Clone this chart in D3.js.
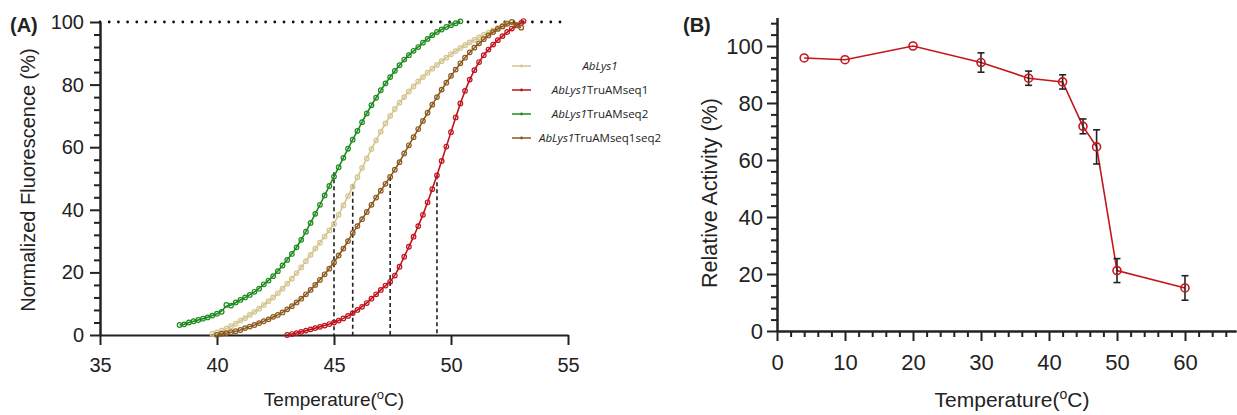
<!DOCTYPE html>
<html lang="en">
<head>
<meta charset="UTF-8">
<title>Thermal stability</title>
<script src="https://d3js.org/d3.v7.min.js"></script>
<style>
  body { margin: 0; background: #fff; }
  svg text { font-family: Arial, "Liberation Sans", sans-serif; fill: #222; }
  .axis path, .axis line { stroke: #222; stroke-width: 2; }
  .axis text { font-size: 20px; }
  .axisB text { font-size: 22px; }
  .legend text { font-family: "Open Sans", sans-serif; font-size: 11.5px; }
</style>
</head>
<body>
<script>
// ---- panel A : melt curves (temperature, normalized fluorescence) ----
var tanPts = [[39.8,0.4],[40.0,0.8],[40.2,1.4],[40.4,2.0],[40.6,2.8],[40.8,3.6],[41.0,4.6],[41.2,5.4],[41.4,6.4],[41.6,7.4],[41.8,8.4],[42.0,9.6],[42.2,10.8],[42.4,12.0],[42.6,13.4],[42.8,14.8],[43.0,16.4],[43.2,18.0],[43.4,19.8],[43.6,21.6],[43.8,23.6],[44.0,25.6],[44.2,27.6],[44.4,29.5],[44.6,31.5],[44.8,33.4],[45.0,35.5],[45.2,38.4],[45.4,41.4],[45.6,44.4],[45.8,47.4],[46.0,50.4],[46.2,53.4],[46.4,56.4],[46.6,59.4],[46.8,62.2],[47.0,65.0],[47.2,67.6],[47.4,70.0],[47.6,72.2],[47.8,74.2],[48.0,76.0],[48.2,77.8],[48.4,79.4],[48.6,81.0],[48.8,82.4],[49.0,83.8],[49.2,85.1],[49.4,86.3],[49.6,87.5],[49.8,88.6],[50.0,89.7],[50.2,90.7],[50.4,91.7],[50.6,92.6],[50.8,93.5],[51.0,94.3],[51.2,95.1],[51.4,95.9],[51.6,96.6],[51.8,97.3],[52.0,98.0],[52.2,98.8],[52.4,99.6]];
var redPts = [[43.0,0.0],[43.2,0.3],[43.4,0.6],[43.6,1.0],[43.8,1.4],[44.0,1.8],[44.2,2.2],[44.4,2.6],[44.6,3.0],[44.8,3.5],[45.0,4.0],[45.2,4.6],[45.4,5.3],[45.6,6.1],[45.8,7.0],[46.0,8.0],[46.2,9.0],[46.4,10.2],[46.6,11.6],[46.8,13.0],[47.0,14.4],[47.2,15.8],[47.4,17.0],[47.6,19.0],[47.8,21.8],[48.0,25.0],[48.2,28.2],[48.4,31.4],[48.6,34.8],[48.8,38.4],[49.0,42.4],[49.2,46.6],[49.4,51.0],[49.6,55.6],[49.8,60.2],[50.0,64.8],[50.2,69.5],[50.4,74.0],[50.6,78.0],[50.8,81.6],[51.0,84.6],[51.2,87.2],[51.4,89.4],[51.6,91.2],[51.8,92.8],[52.0,94.2],[52.2,95.5],[52.4,96.8],[52.6,97.9],[52.8,98.9],[53.0,99.7],[53.1,100.3]];
var greenPts = [[38.4,3.2],[38.6,3.4],[38.8,4.0],[39.0,4.4],[39.2,4.8],[39.4,5.2],[39.6,5.6],[39.8,6.2],[40.0,6.8],[40.2,7.4],[40.4,9.6],[40.6,9.4],[40.8,10.4],[41.0,11.2],[41.2,12.0],[41.4,12.8],[41.6,13.8],[41.8,14.8],[42.0,16.2],[42.2,17.4],[42.4,18.8],[42.6,20.4],[42.8,22.2],[43.0,24.0],[43.2,25.9],[43.4,28.0],[43.6,30.4],[43.8,33.0],[44.0,35.8],[44.2,38.7],[44.4,41.6],[44.6,44.6],[44.8,47.6],[45.0,50.6],[45.2,53.6],[45.4,56.6],[45.6,59.5],[45.8,62.4],[46.0,65.2],[46.2,68.0],[46.4,70.8],[46.6,73.4],[46.8,75.8],[47.0,78.2],[47.2,80.4],[47.4,82.4],[47.6,84.4],[47.8,86.2],[48.0,88.0],[48.2,89.4],[48.4,90.8],[48.6,92.0],[48.8,93.4],[49.0,94.6],[49.2,95.8],[49.4,96.8],[49.6,97.6],[49.8,98.4],[50.0,99.0],[50.2,99.6],[50.4,100.2]];
var brownPts = [[40.0,0.0],[40.2,0.4],[40.4,0.6],[40.6,0.9],[40.8,1.2],[41.0,1.6],[41.2,2.2],[41.4,2.7],[41.6,3.2],[41.8,3.8],[42.0,4.4],[42.2,5.0],[42.4,5.8],[42.6,6.4],[42.8,7.2],[43.0,8.2],[43.2,9.2],[43.4,10.4],[43.6,11.6],[43.8,13.0],[44.0,14.4],[44.2,16.0],[44.4,17.6],[44.6,19.4],[44.8,21.2],[45.0,23.2],[45.2,25.4],[45.4,27.6],[45.6,30.0],[45.8,32.6],[46.0,34.8],[46.2,37.0],[46.4,39.3],[46.6,41.6],[46.8,43.9],[47.0,46.1],[47.2,48.3],[47.4,50.5],[47.6,52.8],[47.8,55.2],[48.0,58.0],[48.2,60.6],[48.4,63.2],[48.6,65.8],[48.8,68.4],[49.0,71.0],[49.2,73.6],[49.4,76.0],[49.6,78.4],[49.8,80.6],[50.0,82.8],[50.2,84.8],[50.4,86.8],[50.6,88.6],[50.8,90.3],[51.0,91.8],[51.2,93.2],[51.4,94.5],[51.6,95.7],[51.8,96.8],[52.0,97.8],[52.2,98.6],[52.4,99.4],[52.6,100.0],[52.8,99.0],[53.0,98.2]];

var seriesNames = ["AbLys1", "AbLys1TruAMseq1", "AbLys1TruAMseq2", "AbLys1TruAMseq1seq2"];
var seriesColors = ["#d3c58e", "#c0141e", "#1e8c1e", "#8c5a1e"];
var seriesPts = [tanPts, redPts, greenPts, brownPts];

// Tm markers (dashed verticals)
var tmTemps = [45.0, 45.8, 47.4, 49.4];
var tmTops = [52, 48, 50.5, 51];

// ---- panel B : relative activity ----
var actTemp = [4, 10, 20, 30, 37, 42, 45, 47, 50, 60];
var actVal = [95.8, 95.2, 100, 94.2, 88.7, 87.4, 71.8, 64.6, 21.2, 15.1];
var actErr = [0, 0, 0, 3.4, 2.5, 2.5, 2.6, 6.0, 4.2, 4.3];

var width = 1237, height = 415;

var svg = d3.select("body").append("svg")
    .attr("width", width)
    .attr("height", height);

// ================= panel A =================
var xA = d3.scaleLinear().domain([35, 55]).range([100, 568]);
var yA = d3.scaleLinear().domain([0, 100]).range([335, 22]);

// minor y ticks
svg.append("g").attr("class", "axis")
    .attr("transform", "translate(100,0)")
    .call(d3.axisLeft(yA).tickValues(d3.range(0, 101, 4).filter(function(v) { return v % 20 != 0; }))
        .tickSize(6).tickSizeOuter(0).tickFormat(""));
svg.append("g").attr("class", "axis")
    .attr("transform", "translate(100,0)")
    .call(d3.axisLeft(yA).tickValues(d3.range(0, 101, 20)).tickSize(10).tickSizeOuter(0).tickPadding(6));

svg.append("g").attr("class", "axis")
    .attr("transform", "translate(0,335)")
    .call(d3.axisBottom(xA).tickValues([35, 40, 45, 50, 55]).tickSize(10).tickSizeOuter(0).tickPadding(13));

// dotted 100% line
svg.append("line")
    .attr("x1", xA(35)).attr("x2", xA(54.7))
    .attr("y1", yA(100)).attr("y2", yA(100))
    .style("stroke", "#111").style("stroke-width", 2.8)
    .style("stroke-linecap", "round").style("stroke-dasharray", "0,9.2");

// dashed Tm lines
svg.selectAll(".tm")
    .data(tmTemps)
    .enter().append("line")
    .attr("class", "tm")
    .attr("x1", function(d) { return xA(d); })
    .attr("x2", function(d) { return xA(d); })
    .attr("y1", function(d, i) { return yA(tmTops[i]); })
    .attr("y2", yA(0))
    .style("stroke", "#222").style("stroke-width", 1.6)
    .style("stroke-dasharray", "4,3");

var fitLine = d3.line()
    .x(function(d) { return xA(d[0]); })
    .y(function(d) { return yA(d[1]); })
    .curve(d3.curveBasis);

seriesPts.forEach(function(pts, i) {
    var g = svg.append("g");
    g.append("path")
        .attr("d", fitLine(pts))
        .style("fill", "none")
        .style("stroke", seriesColors[i])
        .style("stroke-width", 1.6);
    g.selectAll("circle")
        .data(pts)
        .enter().append("circle")
        .attr("cx", function(d) { return xA(d[0]); })
        .attr("cy", function(d) { return yA(d[1]); })
        .attr("r", 2.3)
        .style("fill", "none")
        .style("stroke", seriesColors[i])
        .style("stroke-width", 1.2);
});

// legend
var legend = svg.append("g").attr("class", "legend");
seriesNames.forEach(function(name, i) {
    var ly = 66 + i * 24;
    legend.append("line")
        .attr("x1", 512).attr("x2", 531)
        .attr("y1", ly).attr("y2", ly)
        .style("stroke", seriesColors[i]).style("stroke-width", 1.5);
    legend.append("circle")
        .attr("cx", 521.5).attr("cy", ly).attr("r", 1.4)
        .style("fill", seriesColors[i]);
    var t = legend.append("text")
        .attr("x", 600).attr("y", ly + 4)
        .attr("text-anchor", "middle");
    t.append("tspan").style("font-style", "italic").text("AbLys1");
    t.append("tspan").text(name.slice(6));
});

svg.append("text")
    .attr("x", 10).attr("y", 32)
    .style("font-size", "20px").style("font-weight", "bold")
    .text("(A)");

svg.append("text")
    .attr("transform", "translate(35,180) rotate(-90)")
    .attr("text-anchor", "middle")
    .style("font-size", "20px")
    .text("Normalized Fluorescence (%)");

var xtA = svg.append("text")
    .attr("x", 334).attr("y", 406)
    .attr("text-anchor", "middle")
    .style("font-size", "19px");
xtA.append("tspan").text("Temperature(");
xtA.append("tspan").attr("dy", -7).style("font-size", "13px").text("o");
xtA.append("tspan").attr("dy", 7).text("C)");

// ================= panel B =================
var xB = d3.scaleLinear().domain([0, 67.5]).range([777, 1236]);
var yB = d3.scaleLinear().domain([0, 110]).range([331, 17.5]);

svg.append("g").attr("class", "axis axisB")
    .attr("transform", "translate(777,0)")
    .call(d3.axisLeft(yB).tickValues(d3.range(0, 109, 4).filter(function(v) { return v % 20 != 0; }))
        .tickSize(6).tickSizeOuter(0).tickFormat(""));
svg.append("g").attr("class", "axis axisB")
    .attr("transform", "translate(777,0)")
    .call(d3.axisLeft(yB).tickValues(d3.range(0, 101, 20)).tickSize(10).tickSizeOuter(0).tickPadding(4));

svg.append("g").attr("class", "axis axisB")
    .attr("transform", "translate(0,331)")
    .call(d3.axisBottom(xB).tickValues(d3.range(0, 67, 2).filter(function(v) { return v % 10 != 0; }))
        .tickSize(6).tickSizeOuter(0).tickFormat(""));
svg.append("g").attr("class", "axis axisB")
    .attr("transform", "translate(0,331)")
    .call(d3.axisBottom(xB).tickValues(d3.range(0, 61, 10)).tickSize(10).tickSizeOuter(0).tickPadding(13));

var actData = actTemp.map(function(t, i) { return { t: t, v: actVal[i], e: actErr[i] }; });

svg.append("path")
    .datum(actData)
    .attr("d", d3.line()
        .x(function(d) { return xB(d.t); })
        .y(function(d) { return yB(d.v); }))
    .style("fill", "none")
    .style("stroke", "#c4161c")
    .style("stroke-width", 1.6);

var errs = svg.selectAll(".err")
    .data(actData.filter(function(d) { return d.e > 0; }))
    .enter().append("g")
    .attr("class", "err")
    .style("stroke", "#222").style("stroke-width", 1.6);
errs.append("line")
    .attr("x1", function(d) { return xB(d.t); }).attr("x2", function(d) { return xB(d.t); })
    .attr("y1", function(d) { return yB(d.v + d.e); }).attr("y2", function(d) { return yB(d.v - d.e); });
errs.append("line")
    .attr("x1", function(d) { return xB(d.t) - 3.5; }).attr("x2", function(d) { return xB(d.t) + 3.5; })
    .attr("y1", function(d) { return yB(d.v + d.e); }).attr("y2", function(d) { return yB(d.v + d.e); });
errs.append("line")
    .attr("x1", function(d) { return xB(d.t) - 3.5; }).attr("x2", function(d) { return xB(d.t) + 3.5; })
    .attr("y1", function(d) { return yB(d.v - d.e); }).attr("y2", function(d) { return yB(d.v - d.e); });

svg.selectAll(".act")
    .data(actData)
    .enter().append("circle")
    .attr("class", "act")
    .attr("cx", function(d) { return xB(d.t); })
    .attr("cy", function(d) { return yB(d.v); })
    .attr("r", 4)
    .style("fill", "none")
    .style("stroke", "#c4161c")
    .style("stroke-width", 1.6);

svg.append("text")
    .attr("x", 683).attr("y", 32)
    .style("font-size", "20px").style("font-weight", "bold")
    .text("(B)");

svg.append("text")
    .attr("transform", "translate(717,193) rotate(-90)")
    .attr("text-anchor", "middle")
    .style("font-size", "21.5px")
    .text("Relative Activity (%)");

var xtB = svg.append("text")
    .attr("x", 1012).attr("y", 407)
    .attr("text-anchor", "middle")
    .style("font-size", "21px");
xtB.append("tspan").text("Temperature(");
xtB.append("tspan").attr("dy", -8).style("font-size", "14px").text("o");
xtB.append("tspan").attr("dy", 8).text("C)");
</script>
</body>
</html>
